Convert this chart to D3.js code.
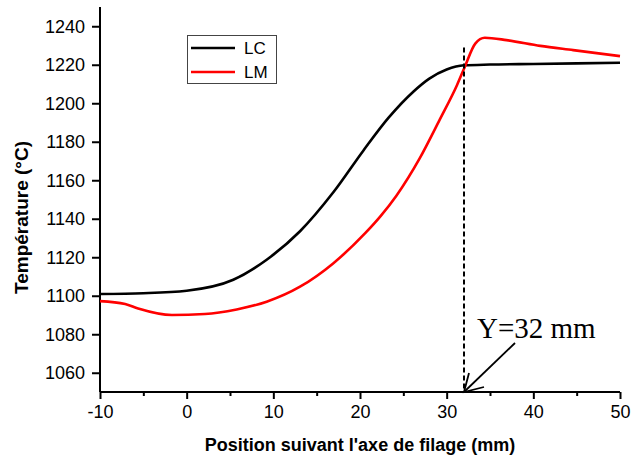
<!DOCTYPE html>
<html><head><meta charset="utf-8">
<script src="https://cdn.jsdelivr.net/npm/d3@7"></script>
<style>body{margin:0;background:#fff}</style>
</head><body>
<svg id="c" width="631" height="459"></svg>
<script>
const lcX = [-10,-5,0,5.38,9.23,13.08,16.9,20.4,23.3,26.15,28,30,32,35,40,50];
const lcY = [1100.9,1101.3,1102.6,1108.3,1118.7,1133.5,1153.6,1175.5,1192.5,1206,1212.8,1217.5,1219.7,1220.1,1220.4,1221];
const lmX = [-10,-7.1,-5.6,-1.7,2.1,5.77,9.23,13.08,16.9,20.6,22.4,24.2,26.9,29.2,31.2,32.1,33.3,34.4,36.9,40.8,44.6,50];
const lmY = [1097.2,1095.7,1093.4,1090,1090.5,1092.9,1096.9,1104.7,1116.8,1132.5,1141.5,1152,1171.5,1191.5,1209.5,1219,1231,1234,1232.8,1229.8,1227.6,1224.5];
const xTicks = [-10,0,10,20,30,40,50];
const xMinor = [-5,5,15,25,35,45];
const yTicks = [1060,1080,1100,1120,1140,1160,1180,1200,1220,1240];
const seriesNames = ["LC","LM"];
const seriesColors = ["#000000","#ff0000"];
const markX = 32;
const markLabel = "Y=32 mm";

const svg = d3.select("#c");
const m = {l:100, r:11, t:7, b:67};
const W = 631, H = 459;
const x = d3.scaleLinear().domain([-10,50]).range([m.l, W-m.r]);
const y = d3.scaleLinear().domain([1050,1250]).range([H-m.b, m.t]);

const font = "Arial, 'Liberation Sans', sans-serif";
const fmt = d => String(d);

const xAxis = svg.append("g").attr("transform",`translate(0,${y(1050)})`)
  .call(d3.axisBottom(x).tickValues(xTicks).tickSize(7).tickPadding(6).tickFormat(fmt));
svg.append("g").attr("transform",`translate(0,${y(1050)})`)
  .call(d3.axisBottom(x).tickValues(xMinor).tickSize(4).tickFormat(""))
  .call(g=>g.select(".domain").remove());
const yAxis = svg.append("g").attr("transform",`translate(${x(-10)},0)`)
  .call(d3.axisLeft(y).tickValues(yTicks).tickSize(8).tickPadding(7).tickFormat(fmt));
svg.selectAll(".domain").attr("stroke","#000").attr("stroke-width",2);
svg.selectAll(".tick line").attr("stroke","#000").attr("stroke-width",2);
svg.selectAll(".tick text").attr("font-family",font).attr("font-size",18).attr("fill","#000");
xAxis.select(".domain").attr("d",`M${x(-10)},0H${x(50)}`);
yAxis.select(".domain").attr("d",`M0,${y(1050)}V${y(1250)}`);

svg.append("text").attr("x",(x(-10)+x(50))/2).attr("y",451)
  .attr("text-anchor","middle").attr("font-family",font).attr("font-weight","bold")
  .attr("font-size",18).text("Position suivant l'axe de filage (mm)");
svg.append("text").attr("transform",`translate(28,${(y(1050)+y(1250))/2+18}) rotate(-90)`)
  .attr("text-anchor","middle").attr("font-family",font).attr("font-weight","bold")
  .attr("font-size",19).text("Température (°C)");

const line = d3.line().x(d=>x(d[0])).y(d=>y(d[1])).curve(d3.curveMonotoneX);
const data = [d3.zip(lcX,lcY), d3.zip(lmX,lmY)];
data.forEach((d,i)=>{
  svg.append("path").datum(d).attr("d",line).attr("fill","none")
    .attr("stroke",seriesColors[i]).attr("stroke-width",2.6).attr("stroke-linejoin","round");
});

svg.append("line").attr("x1",x(markX)).attr("x2",x(markX)).attr("y1",y(1229)).attr("y2",y(1050))
  .attr("stroke","#000").attr("stroke-width",2).attr("stroke-dasharray","5,3");

svg.append("text").attr("x",477).attr("y",338).attr("font-family","'Liberation Serif','Times New Roman',serif")
  .attr("font-size",29).text(markLabel);
const tip = [x(markX), y(1050)];
svg.append("line").attr("x1",515).attr("y1",343).attr("x2",tip[0]).attr("y2",tip[1])
  .attr("stroke","#000").attr("stroke-width",1.8);
svg.append("path").attr("d",`M${tip[0]+5},${tip[1]-19}L${tip[0]},${tip[1]}L${tip[0]+20},${tip[1]-5}`)
  .attr("fill","none").attr("stroke","#000").attr("stroke-width",1.8);

const lg = svg.append("g");
lg.append("rect").attr("x",187.5).attr("y",35.5).attr("width",89).attr("height",48)
  .attr("fill","#fff").attr("stroke","#444").attr("stroke-width",1);
seriesNames.forEach((n,i)=>{
  const yy = 48 + i*24;
  lg.append("line").attr("x1",191).attr("x2",235).attr("y1",yy).attr("y2",yy)
    .attr("stroke",seriesColors[i]).attr("stroke-width",2.6);
  lg.append("text").attr("x",244).attr("y",yy+6).attr("font-family",font).attr("font-size",17).text(n);
});
</script>
</body></html>
